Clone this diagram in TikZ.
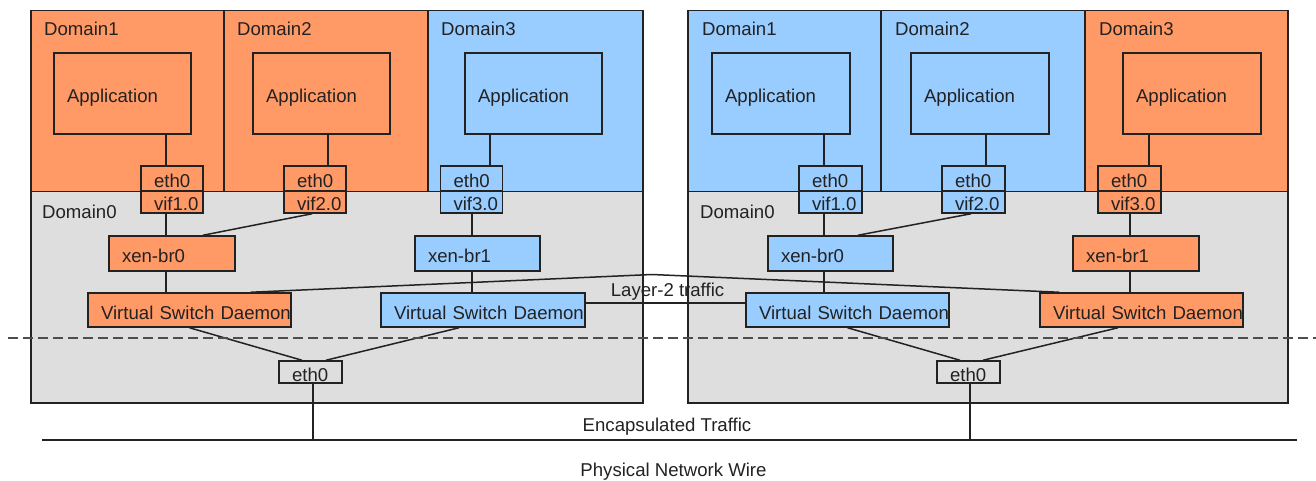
\documentclass[tikz,border=0pt]{standalone}
\usepackage{fontspec}
\setmainfont{Liberation Sans}
\usetikzlibrary{calc}

\definecolor{hostorange}{HTML}{FF9966}
\definecolor{hostblue}{HTML}{99CCFF}
\definecolor{domgray}{HTML}{DEDEDE}
\definecolor{ink}{HTML}{222222}
\definecolor{dashgray}{HTML}{4D4D4D}

\tikzset{
  lbl/.style={font=\fontsize{18.6}{22}\selectfont, text=ink, inner sep=0pt},
  area/.style={draw=ink, line width=1.5pt, inner sep=0pt, anchor=north west},
  box/.style={lbl, draw=ink, line width=1.5pt, inner xsep=13pt, inner ysep=0pt,
              align=left, text height=18pt, text depth=0pt},
  dims/.code 2 args={%
    \pgfmathsetmacro\bxw{#1}%
    \pgfmathsetmacro\bxt{#1-26}%
    \edef\bxnext{\noexpand\tikzset{minimum width=\bxw pt, minimum height=#2pt, text width=\bxt pt}}%
    \bxnext},
  daemon/.style={inner xsep=12pt},
  link/.style={draw=ink, line width=1.5pt},
  split/.style={draw=dashgray, line width=2pt, dash pattern=on 10pt off 5pt},
}

\begin{document}
\begin{tikzpicture}[x=1pt, y=-1pt]
\useasboundingbox (0,0) rectangle (1316,481);

% ---------------- left host ----------------
\node[area, fill=domgray, minimum width=612pt, minimum height=211pt] (d0L) at (30,191) {};
\node[area, fill=hostorange, minimum width=193pt, minimum height=181pt] (d1L) at (30,10) {};
\node[area, fill=hostorange, minimum width=204pt, minimum height=181pt] (d2L) at (223,10) {};
\node[area, fill=hostblue, minimum width=215pt, minimum height=181pt] (d3L) at (427,10) {};

\node[lbl, anchor=base west] (d0Lname) at ($(d0L.north west)+(12,27)$) {Domain0};
\node[lbl, anchor=base west] (d1Lname) at ($(d1L.north west)+(14,26)$) {Domain1};
\node[lbl, anchor=base west] (d2Lname) at ($(d2L.north west)+(14,26)$) {Domain2};
\node[lbl, anchor=base west] (d3Lname) at ($(d3L.north west)+(14,26)$) {Domain3};

\node[box, dims={137}{81}, fill=hostorange] (app1L) at (122.5,93.5) {Application};
\node[box, dims={137}{81}, fill=hostorange] (app2L) at (321.5,93.5) {Application};
\node[box, dims={137}{81}, fill=hostblue]   (app3L) at (533.5,93.5) {Application};

\node[box, dims={62}{25}, fill=hostorange] (eth1L) at (172,178.5) {eth0};
\node[box, dims={62}{22}, fill=hostorange] (vif1L) at (172,202) {vif1.0};
\node[box, dims={62}{25}, fill=hostorange] (eth2L) at (315,178.5) {eth0};
\node[box, dims={62}{22}, fill=hostorange] (vif2L) at (315,202) {vif2.0};
\node[box, dims={62}{25}, fill=hostblue]   (eth3L) at (471.5,178.5) {eth0};
\node[box, dims={62}{22}, fill=hostblue]   (vif3L) at (471.5,202) {vif3.0};

\node[box, dims={126}{35}, fill=hostorange] (br0L) at (172,253.5) {xen-br0};
\node[box, dims={125}{35}, fill=hostblue]   (br1L) at (477.5,253.5) {xen-br1};

\node[box, dims={203}{34}, daemon, fill=hostorange] (vsdOL) at (189.5,310) {\mbox{Virtual Switch Daemon}};
\node[box, dims={204}{34}, daemon, fill=hostblue]   (vsdBL) at (483,310) {\mbox{Virtual Switch Daemon}};

\node[box, dims={63}{22}] (nicL) at (310.5,372) {eth0};

% ---------------- right host ----------------
\node[area, fill=domgray, minimum width=600pt, minimum height=211pt] (d0R) at (687,191) {};
\node[area, fill=hostblue, minimum width=193pt, minimum height=181pt] (d1R) at (687,10) {};
\node[area, fill=hostblue, minimum width=204pt, minimum height=181pt] (d2R) at (880,10) {};
\node[area, fill=hostorange, minimum width=203pt, minimum height=181pt] (d3R) at (1084,10) {};

\node[lbl, anchor=base west] (d0Rname) at ($(d0R.north west)+(13,27)$) {Domain0};
\node[lbl, anchor=base west] (d1Rname) at ($(d1R.north west)+(15,26)$) {Domain1};
\node[lbl, anchor=base west] (d2Rname) at ($(d2R.north west)+(15,26)$) {Domain2};
\node[lbl, anchor=base west] (d3Rname) at ($(d3R.north west)+(15,26)$) {Domain3};

\node[box, dims={138}{81}, fill=hostblue]   (app1R) at (781,93.5) {Application};
\node[box, dims={138}{81}, fill=hostblue]   (app2R) at (980,93.5) {Application};
\node[box, dims={138}{81}, fill=hostorange] (app3R) at (1192,93.5) {Application};

\node[box, dims={63}{25}, fill=hostblue]   (eth1R) at (830.5,178.5) {eth0};
\node[box, dims={63}{22}, fill=hostblue]   (vif1R) at (830.5,202) {vif1.0};
\node[box, dims={63}{25}, fill=hostblue]   (eth2R) at (973.5,178.5) {eth0};
\node[box, dims={63}{22}, fill=hostblue]   (vif2R) at (973.5,202) {vif2.0};
\node[box, dims={63}{25}, fill=hostorange] (eth3R) at (1129.5,178.5) {eth0};
\node[box, dims={63}{22}, fill=hostorange] (vif3R) at (1129.5,202) {vif3.0};

\node[box, dims={125}{35}, fill=hostblue]   (br0R) at (830.5,253.5) {xen-br0};
\node[box, dims={126}{35}, fill=hostorange] (br1R) at (1136,253.5) {xen-br1};

\node[box, dims={203}{34}, daemon, fill=hostblue]   (vsdBR) at (847.5,310) {\mbox{Virtual Switch Daemon}};
\node[box, dims={203}{34}, daemon, fill=hostorange] (vsdOR) at (1141.5,310) {\mbox{Virtual Switch Daemon}};

\node[box, dims={63}{22}] (nicR) at (968.5,372) {eth0};

% ---------------- vertical positions of the links ----------------
\coordinate (xa1L) at (166,0);
\coordinate (xa2L) at (328,0);
\coordinate (xa3L) at (490,0);
\coordinate (xv3L) at (472,0);
\coordinate (xa1R) at (824,0);
\coordinate (xa2R) at (986,0);
\coordinate (xa3R) at (1149,0);
\coordinate (xv3R) at (1130,0);

% application -> guest eth0
\draw[link] (app1L.south -| xa1L) -- (eth1L.north -| xa1L);
\draw[link] (app2L.south -| xa2L) -- (eth2L.north -| xa2L);
\draw[link] (app3L.south -| xa3L) -- (eth3L.north -| xa3L);
\draw[link] (app1R.south -| xa1R) -- (eth1R.north -| xa1R);
\draw[link] (app2R.south -| xa2R) -- (eth2R.north -| xa2R);
\draw[link] (app3R.south -| xa3R) -- (eth3R.north -| xa3R);

% vif -> bridge
\draw[link] (vif1L.south -| xa1L) -- (br0L.north -| xa1L);
\draw[link] ([xshift=-3pt]vif2L.south) -- ([xshift=31pt]br0L.north);
\draw[link] (vif3L.south -| xv3L) -- (br1L.north -| xv3L);
\draw[link] (vif1R.south -| xa1R) -- (br0R.north -| xa1R);
\draw[link] ([xshift=-2.5pt]vif2R.south) -- ([xshift=27.5pt]br0R.north);
\draw[link] (vif3R.south -| xv3R) -- (br1R.north -| xv3R);

% bridge -> switch daemon
\draw[link] (br0L.south -| xa1L) -- (vsdOL.north -| xa1L);
\draw[link] (br1L.south -| xv3L) -- (vsdBL.north -| xv3L);
\draw[link] (br0R.south -| xa1R) -- (vsdBR.north -| xa1R);
\draw[link] (br1R.south -| xv3R) -- (vsdOR.north -| xv3R);

% switch daemon -> physical eth0
\draw[link] (vsdOL.south) -- ([xshift=-8.5pt]nicL.north);
\draw[link] ([xshift=-24pt]vsdBL.south) -- ([xshift=15.5pt]nicL.north);
\draw[link] (vsdBR.south) -- ([xshift=-8.5pt]nicR.north);
\draw[link] ([xshift=-23.5pt]vsdOR.south) -- ([xshift=14.5pt]nicR.north);

% layer-2 links between the daemons
\coordinate (l2peak) at (652,274.5);
\draw[link] ([xshift=-41pt]vsdOL.north east) -- (l2peak) -- ([xshift=20pt]vsdOR.north west);
\draw[link] ([yshift=7pt]vsdBL.east) -- ([yshift=7pt]vsdBR.west);
\node[lbl, anchor=base] (l2text) at (667.5,296) {Layer-2 traffic};

% host / network boundary
\coordinate (dashA) at (8,338);
\coordinate (dashB) at (1316,338);
\draw[split] (dashA) -- (dashB);

% physical wire
\coordinate (wireA) at (42,440);
\coordinate (wireB) at (1297,440);
\draw[link] (wireA) -- (wireB);
\draw[link] ([xshift=2.5pt]nicL.south) -- ([xshift=2.5pt]nicL.south |- wireA);
\draw[link] ([xshift=1.5pt]nicR.south) -- ([xshift=1.5pt]nicR.south |- wireA);

\node[lbl, anchor=base] (enctext) at (667,431.5) {Encapsulated Traffic};
\node[lbl, anchor=base] (wiretext) at (673.5,476) {Physical Network Wire};
\end{tikzpicture}
\end{document}
